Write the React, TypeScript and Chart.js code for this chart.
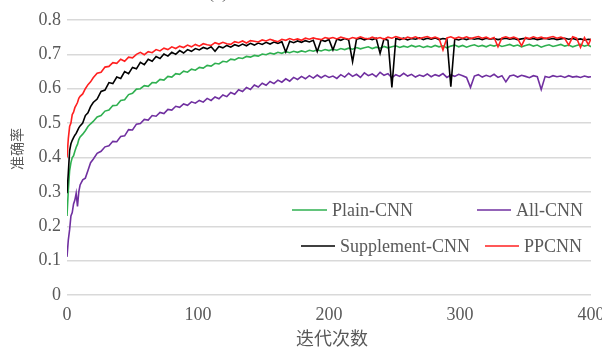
import React, { useEffect, useRef } from "react";
import { Chart, registerables } from "chart.js";

Chart.register(...registerables);

// Iterations (x values) shared by all series
const ITERATIONS = [
  0, 1, 2, 3, 4, 5, 6, 7, 8, 9, 10, 12, 14, 16, 18, 20,
  23, 26, 29, 32, 35, 38, 41, 44, 47, 50, 53, 56, 59, 62, 65, 68, 71, 74, 77, 80, 83, 86, 89, 92, 95, 98,
  101, 104, 107, 110, 113, 116, 119, 122, 125, 128, 131, 134, 137, 140, 143, 146, 149, 152, 155, 158, 161, 164, 167, 170, 173, 176, 179, 182, 185, 188, 191, 194, 197, 200,
  203, 206, 209, 212, 215, 218, 221, 224, 227, 230, 233, 236, 239, 242, 245, 248, 251, 254, 257, 260, 263, 266, 269, 272, 275, 278, 281, 284, 287, 290, 293, 296, 299,
  302, 305, 308, 311, 314, 317, 320, 323, 326, 329, 332, 335, 338, 341, 344, 347, 350, 353, 356, 359, 362, 365, 368, 371, 374, 377, 380, 383, 386, 389, 392, 395, 398,
  400,
];

const PLAIN_CNN = [
  0.230, 0.305, 0.362, 0.385, 0.400, 0.405, 0.418, 0.430, 0.438, 0.452, 0.460, 0.468, 0.478, 0.490, 0.498, 0.505,
  0.518, 0.522, 0.535, 0.538, 0.551, 0.552, 0.566, 0.568, 0.583, 0.587, 0.599, 0.600, 0.609, 0.607, 0.618, 0.617, 0.627, 0.625, 0.636, 0.634, 0.644, 0.642, 0.651, 0.648, 0.657, 0.654,
  0.662, 0.660, 0.668, 0.666, 0.674, 0.672, 0.680, 0.678, 0.686, 0.684, 0.690, 0.688, 0.694, 0.692, 0.697, 0.695, 0.701, 0.699, 0.704, 0.701, 0.706, 0.703, 0.708, 0.705, 0.709, 0.706, 0.710, 0.707, 0.712, 0.709, 0.713, 0.710, 0.714, 0.711,
  0.715, 0.712, 0.717, 0.714, 0.718, 0.715, 0.720, 0.716, 0.719, 0.722, 0.717, 0.721, 0.718, 0.723, 0.719, 0.722, 0.725, 0.720, 0.724, 0.721, 0.726, 0.722, 0.725, 0.720, 0.724, 0.721, 0.726, 0.722, 0.725, 0.719, 0.724, 0.727, 0.722,
  0.726, 0.721, 0.725, 0.728, 0.723, 0.726, 0.722, 0.727, 0.724, 0.728, 0.723, 0.726, 0.729, 0.724, 0.727, 0.722, 0.726, 0.729, 0.724, 0.727, 0.721, 0.725, 0.728, 0.723, 0.726, 0.729, 0.724, 0.727, 0.722, 0.726, 0.729, 0.724, 0.727,
  0.722,
];

const ALL_CNN = [
  0.111, 0.160, 0.190, 0.230, 0.240, 0.265, 0.276, 0.296, 0.258, 0.300, 0.320, 0.335, 0.340, 0.362, 0.385, 0.395,
  0.412, 0.418, 0.431, 0.434, 0.447, 0.446, 0.461, 0.463, 0.481, 0.480, 0.497, 0.499, 0.511, 0.509, 0.522, 0.520, 0.531, 0.528, 0.540, 0.538, 0.549, 0.546, 0.556, 0.552, 0.562, 0.558,
  0.566, 0.561, 0.572, 0.566, 0.576, 0.571, 0.582, 0.577, 0.589, 0.584, 0.597, 0.592, 0.604, 0.598, 0.611, 0.605, 0.616, 0.610, 0.621, 0.615, 0.625, 0.619, 0.629, 0.622, 0.633, 0.627, 0.636, 0.629, 0.638, 0.631, 0.640, 0.632, 0.639, 0.633,
  0.637, 0.630, 0.641, 0.634, 0.645, 0.636, 0.642, 0.633, 0.646, 0.638, 0.643, 0.635, 0.648, 0.639, 0.644, 0.632, 0.641, 0.636, 0.645, 0.637, 0.642, 0.634, 0.640, 0.636, 0.643, 0.635, 0.641, 0.637, 0.644, 0.633, 0.640, 0.636, 0.642,
  0.638, 0.633, 0.604, 0.637, 0.641, 0.634, 0.639, 0.635, 0.642, 0.633, 0.638, 0.620, 0.637, 0.640, 0.634, 0.639, 0.636, 0.632, 0.638, 0.635, 0.598, 0.636, 0.633, 0.638, 0.635, 0.637, 0.633, 0.638, 0.634, 0.636, 0.633, 0.637, 0.634,
  0.635,
];

const SUPPLEMENT_CNN = [
  0.296, 0.355, 0.420, 0.440, 0.450, 0.458, 0.465, 0.470, 0.478, 0.486, 0.492, 0.500, 0.522, 0.530, 0.548, 0.560,
  0.570, 0.592, 0.596, 0.618, 0.615, 0.634, 0.630, 0.650, 0.644, 0.662, 0.658, 0.677, 0.670, 0.686, 0.680, 0.694, 0.688, 0.701, 0.695, 0.706, 0.700, 0.711, 0.704, 0.714, 0.709, 0.717,
  0.713, 0.720, 0.716, 0.722, 0.709, 0.723, 0.719, 0.726, 0.721, 0.728, 0.724, 0.730, 0.725, 0.732, 0.727, 0.733, 0.729, 0.735, 0.730, 0.736, 0.732, 0.737, 0.707, 0.738, 0.734, 0.739, 0.735, 0.740, 0.736, 0.741, 0.708, 0.742, 0.738, 0.743,
  0.713, 0.745, 0.741, 0.746, 0.742, 0.679, 0.744, 0.747, 0.742, 0.746, 0.743, 0.747, 0.703, 0.745, 0.741, 0.604, 0.746, 0.743, 0.747, 0.742, 0.746, 0.744, 0.748, 0.743, 0.747, 0.744, 0.748, 0.743, 0.746, 0.744, 0.606, 0.745, 0.742,
  0.746, 0.743, 0.747, 0.744, 0.746, 0.743, 0.747, 0.744, 0.746, 0.743, 0.745, 0.747, 0.744, 0.746, 0.743, 0.745, 0.747, 0.744, 0.746, 0.743, 0.745, 0.747, 0.744, 0.746, 0.743, 0.745, 0.747, 0.744, 0.746, 0.743, 0.745, 0.742, 0.744,
  0.743,
];

const PPCNN = [
  0.400, 0.455, 0.490, 0.500, 0.525, 0.532, 0.545, 0.552, 0.560, 0.572, 0.578, 0.585, 0.600, 0.612, 0.620, 0.632,
  0.645, 0.648, 0.663, 0.665, 0.676, 0.674, 0.686, 0.680, 0.692, 0.690, 0.700, 0.706, 0.699, 0.708, 0.705, 0.714, 0.710, 0.718, 0.714, 0.722, 0.717, 0.724, 0.720, 0.727, 0.722, 0.729,
  0.724, 0.731, 0.728, 0.726, 0.734, 0.730, 0.735, 0.731, 0.729, 0.737, 0.734, 0.739, 0.733, 0.740, 0.738, 0.736, 0.742, 0.739, 0.744, 0.740, 0.737, 0.744, 0.741, 0.746, 0.742, 0.745, 0.741, 0.747, 0.744, 0.748, 0.745, 0.743, 0.749, 0.746,
  0.749, 0.745, 0.750, 0.747, 0.744, 0.749, 0.746, 0.751, 0.747, 0.745, 0.750, 0.746, 0.749, 0.744, 0.750, 0.747, 0.752, 0.748, 0.745, 0.750, 0.747, 0.751, 0.746, 0.749, 0.752, 0.747, 0.750, 0.746, 0.713, 0.748, 0.751, 0.746, 0.750,
  0.747, 0.751, 0.746, 0.749, 0.752, 0.747, 0.750, 0.745, 0.749, 0.722, 0.748, 0.751, 0.747, 0.750, 0.746, 0.725, 0.749, 0.746, 0.751, 0.747, 0.750, 0.746, 0.749, 0.752, 0.747, 0.750, 0.746, 0.727, 0.751, 0.747, 0.720, 0.749, 0.728,
  0.745,
];

const SERIES_LABELS = ["Plain-CNN", "All-CNN", "Supplement-CNN", "PPCNN"];
const SERIES_COLORS = ["#2fb050", "#7030a0", "#000000", "#ff2020"];
const SERIES_ORDER = [2, 3, 1, 0];
const X_TITLE = "迭代次数";
const Y_TITLE = "准确率";
const CHART_TITLE = "(a)";

const TEXT_COLOR = "#595959";
const SERIF = "'Liberation Serif', 'Times New Roman', serif";
const CJK = "'Noto Sans CJK SC', sans-serif";

// legend placement: [lineStart, lineEnd, textX, y]
const LEGEND_POS = [
  [292, 327, 332, 210],
  [477, 511, 516, 210],
  [301, 335, 340, 246],
  [485, 519, 524, 246],
];

const decorPlugin = {
  id: "decor",
  afterDraw(chart: any) {
    const ctx = chart.ctx;
    ctx.save();
    // partial title
    ctx.fillStyle = TEXT_COLOR;
    ctx.font = `18px ${SERIF}`;
    ctx.textAlign = "center";
    ctx.textBaseline = "alphabetic";
    ctx.fillText(CHART_TITLE, 218, -2);
    // x title
    ctx.font = `18px ${CJK}`;
    ctx.textBaseline = "middle";
    ctx.fillText(X_TITLE, 332, 338);
    // y title
    ctx.save();
    ctx.translate(17, 149);
    ctx.rotate(-Math.PI / 2);
    ctx.font = `14px ${CJK}`;
    ctx.fillText(Y_TITLE, 0, 0);
    ctx.restore();
    // legend
    chart.data.datasets.forEach((ds: any, i: number) => {
      const [x0, x1, tx, y] = LEGEND_POS[i];
      ctx.strokeStyle = ds.borderColor;
      ctx.lineWidth = 1.5;
      ctx.beginPath();
      ctx.moveTo(x0, y);
      ctx.lineTo(x1, y);
      ctx.stroke();
      ctx.fillStyle = TEXT_COLOR;
      ctx.font = `18px ${SERIF}`;
      ctx.textAlign = "left";
      ctx.textBaseline = "middle";
      ctx.fillText(ds.label, tx, y + 1);
    });
    ctx.restore();
  },
};

export default function App() {
  const ref = useRef<HTMLCanvasElement>(null);
  useEffect(() => {
    const seriesValues = [PLAIN_CNN, ALL_CNN, SUPPLEMENT_CNN, PPCNN];
    const chart = new Chart(ref.current as HTMLCanvasElement, {
      type: "line",
      data: {
        datasets: seriesValues.map((vals, i) => ({
          label: SERIES_LABELS[i],
          data: ITERATIONS.map((x, j) => ({ x, y: vals[j] })),
          borderColor: SERIES_COLORS[i],
          backgroundColor: SERIES_COLORS[i],
          borderWidth: 1.6,
          pointRadius: 0,
          tension: 0,
          order: SERIES_ORDER[i],
        })),
      },
      options: {
        animation: false,
        responsive: false,
        devicePixelRatio: 1,
        layout: { padding: { top: 20, right: 11, left: 0, bottom: 0 } },
        plugins: { legend: { display: false }, tooltip: { enabled: false }, title: { display: false } },
        scales: {
          x: {
            type: "linear",
            min: 0,
            max: 400,
            grid: { display: false, drawTicks: false },
            border: { display: false },
            ticks: {
              stepSize: 100,
              padding: 9,
              maxRotation: 0,
              color: TEXT_COLOR,
              font: { family: SERIF, size: 18 },
            },
            afterFit(scale: any) {
              scale.height = 53;
              scale.paddingLeft = 0;
              scale.paddingRight = 0;
            },
          },
          y: {
            min: 0,
            max: 0.8,
            grid: { color: "#d9d9d9", lineWidth: 1.5, drawTicks: false },
            border: { display: false },
            ticks: {
              stepSize: 0.1,
              padding: 6,
              color: TEXT_COLOR,
              font: { family: SERIF, size: 18 },
              callback: (v: any) => (Math.abs(v) < 1e-9 ? "0" : Number(v).toFixed(1)),
            },
            afterFit(scale: any) {
              scale.width = 67;
            },
          },
        },
      },
      plugins: [decorPlugin],
    });
    return () => chart.destroy();
  }, []);
  return (
    <div style={{ position: "absolute", left: 0, top: 0, width: 602, height: 348, background: "#fff" }}>
      <canvas ref={ref} width={602} height={348} />
    </div>
  );
}
